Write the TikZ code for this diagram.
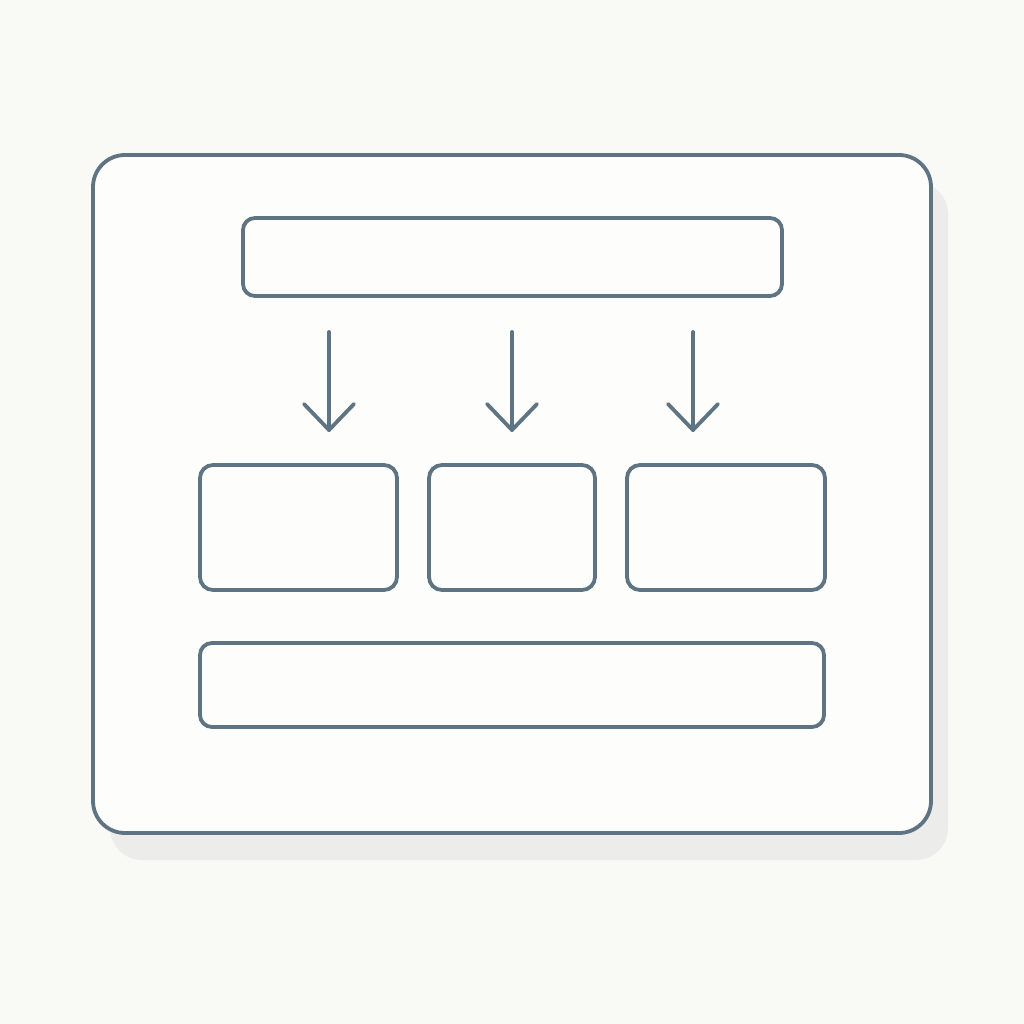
\documentclass[tikz,border=0pt]{standalone}
\definecolor{bg}{HTML}{F9F9F6}
\definecolor{panel}{HTML}{FDFDFB}
\definecolor{ink}{HTML}{5E7483}
\definecolor{shadowcol}{HTML}{ECECEA}
\tikzset{
  box/.style={draw=ink, line width=3.8pt, fill=panel, rounded corners=13pt},
  arr/.style={draw=ink, line width=3.8pt, line cap=round, line join=round},
}
\begin{document}
\begin{tikzpicture}[x=1pt,y=-1pt]
\fill[bg] (0,0) rectangle (1024,1024);
\useasboundingbox (0,0) rectangle (1024,1024);
% shadow
\fill[shadowcol, rounded corners=32pt] (110,182) rectangle (948,860);
% outer panel
\draw[box, rounded corners=32pt] (93,155) rectangle (931,833);
% top bar
\draw[box, rounded corners=12pt] (243,218) rectangle (782,296);
% arrows
\foreach \x/\n in {329/a,512/b,693/c}{
  \coordinate (s\n) at (\x,332);
  \coordinate (e\n) at (\x,430);
  \draw[arr] (s\n) -- (e\n);
  \draw[arr] (\x-25,404) -- (e\n) -- (\x+25,404);
}
% three boxes
\draw[box] (200,465) rectangle (397,590);
\draw[box] (429,465) rectangle (595,590);
\draw[box] (627,465) rectangle (825,590);
% bottom bar
\draw[box, rounded corners=12pt] (200,643) rectangle (824,727);
\end{tikzpicture}
\end{document}
